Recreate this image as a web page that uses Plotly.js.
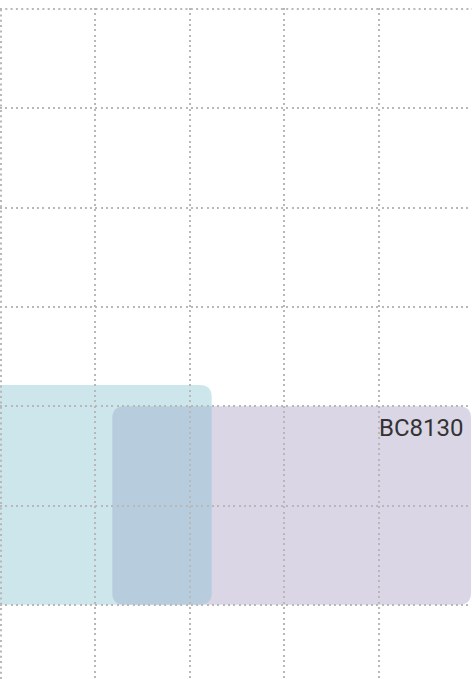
<!DOCTYPE html>
<html>
<head>
<meta charset="utf-8">
<script src="https://cdn.plot.ly/plotly-3.0.1.min.js"></script>
<style>html,body{margin:0;padding:0;background:#fff;}#chart{width:472px;height:679px;}</style>
</head>
<body>
<div id="chart"></div>
<script>
// Task bars (data units: x = columns, y = rows from top)
var labels = ['', 'BC8130'];
var starts = [-0.3, 1.179];
var ends = [2.232, 4.979];
var tops = [3.786, 4.0];
var bottoms = [6.0, 6.0];
var fills = ['rgba(130,192,207,0.4)', 'rgba(162,152,192,0.4)'];

var pxX = 94.4, pxY = 99.3, radius = 12;
var rx = radius / pxX, ry = radius / pxY;
var gridColor = '#b8b8b8', gridWidth = 2, gridDash = '2px,3.3px';

function roundedPath(x0, x1, y0, y1) {
  return 'M' + (x0 + rx) + ',' + y0 +
    ' L' + (x1 - rx) + ',' + y0 +
    ' Q' + x1 + ',' + y0 + ' ' + x1 + ',' + (y0 + ry) +
    ' L' + x1 + ',' + (y1 - ry) +
    ' Q' + x1 + ',' + y1 + ' ' + (x1 - rx) + ',' + y1 +
    ' L' + (x0 + rx) + ',' + y1 +
    ' Q' + x0 + ',' + y1 + ' ' + x0 + ',' + (y1 - ry) +
    ' L' + x0 + ',' + (y0 + ry) +
    ' Q' + x0 + ',' + y0 + ' ' + (x0 + rx) + ',' + y0 + ' Z';
}

var order = [1, 0];
var shapes = order.map(function (i) {
  return {
    type: 'path', xref: 'x', yref: 'y', layer: 'below',
    path: roundedPath(starts[i], ends[i], tops[i], bottoms[i]),
    fillcolor: fills[i], line: {width: 0}
  };
});
// grid lines at the plot edges (Plotly drops gridlines within 1px of the edge)
shapes.push({type: 'line', xref: 'x', yref: 'paper', x0: 0, x1: 0, y0: 0, y1: 1, layer: 'above',
  line: {color: gridColor, width: gridWidth, dash: gridDash}});
shapes.push({type: 'line', xref: 'paper', yref: 'y', x0: 0, x1: 1, y0: 0, y1: 0, layer: 'above',
  line: {color: gridColor, width: gridWidth, dash: gridDash}});

var annotations = [];
labels.forEach(function (t, i) {
  if (!t) return;
  annotations.push({
    x: ends[i], y: tops[i], xref: 'x', yref: 'y',
    text: t, showarrow: false, xanchor: 'right', yanchor: 'top',
    xshift: -5, yshift: -6,
    font: {family: 'Roboto, sans-serif', size: 24, color: '#333333'}
  });
});

var gridStyle = {
  showgrid: true, gridcolor: gridColor, gridwidth: gridWidth, griddash: gridDash,
  zeroline: false, showline: false, showticklabels: false, ticks: '',
  dtick: 1, tick0: 0, fixedrange: true
};

var layout = {
  width: 472, height: 679,
  margin: {l: 0, r: 0, t: 8, b: 0, pad: 0},
  paper_bgcolor: '#ffffff', plot_bgcolor: '#ffffff',
  showlegend: false,
  xaxis: Object.assign({}, gridStyle, {range: [-1 / pxX, 471 / pxX]}),
  yaxis: Object.assign({}, gridStyle, {range: [670 / pxY, -1 / pxY]}),
  shapes: shapes,
  annotations: annotations
};

Plotly.newPlot('chart', [{x: [], y: [], type: 'scatter', hoverinfo: 'skip'}], layout, {staticPlot: true, displayModeBar: false});
</script>
</body>
</html>
